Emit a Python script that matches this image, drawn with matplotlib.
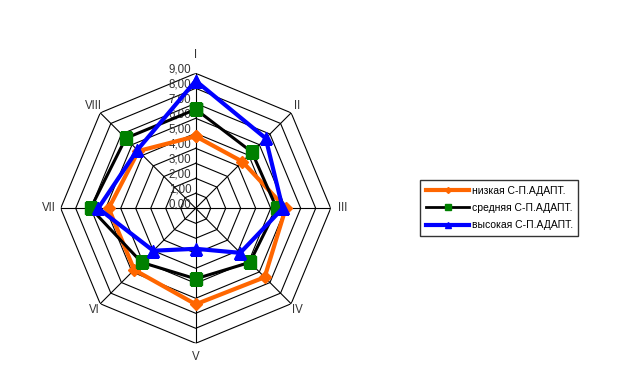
import numpy as np
import matplotlib
matplotlib.use('Agg')
from matplotlib import pyplot as plt
from matplotlib.lines import Line2D

plt.rcParams['font.family'] = ['Liberation Sans', 'DejaVu Sans']

categories = ['I', 'II', 'III', 'IV', 'V', 'VI', 'VII', 'VIII']
low = [4.8, 4.4, 6.0, 6.5, 6.4, 5.8, 5.8, 5.4]
mid = [6.6, 5.3, 5.4, 5.1, 4.7, 5.1, 7.0, 6.6]
high = [8.5, 6.6, 5.8, 4.2, 2.7, 4.0, 6.5, 5.5]
series_names = ['низкая С-П.АДАПТ.', 'средняя С-П.АДАПТ.', 'высокая С-П.АДАПТ.']
r_ticks = [0, 1, 2, 3, 4, 5, 6, 7, 8, 9]
label_r = [10.2, 9.6, 9.8, 9.6, 9.9, 9.6, 9.8, 9.6]


def closed(vals):
    return list(vals) + [vals[0]]


W, H = 637, 365
cx, cy, R = 195.7, 208.3, 135
fig = plt.figure(figsize=(W / 100, H / 100), dpi=100)
ax = fig.add_axes([(cx - R) / W, (H - cy - R) / H, 2 * R / W, 2 * R / H],
                  projection='polar')
ax.set_theta_zero_location('N')
ax.set_theta_direction(-1)
ax.set_rlim(0, 9)
ax.grid(False)
ax.spines['polar'].set_visible(False)
ax.set_xticks([])
ax.set_yticks([])
ax.patch.set_alpha(0)

n = len(categories)
theta = np.arange(n) * 2 * np.pi / n
th_c = closed(list(theta))

# octagon grid
for r in r_ticks[1:]:
    ax.plot(th_c, [r] * (n + 1), color='black', lw=0.8, zorder=1)
for t in theta:
    ax.plot([t, t], [0, 9], color='black', lw=0.8, zorder=1)

# tick labels along axis I
for r in r_ticks:
    ax.annotate('{:.2f}'.format(r).replace('.', ','), xy=(0, r),
                xytext=(-3, 3), textcoords='offset points',
                ha='right', va='center', fontsize=8.3, color='#333333',
                zorder=2)

# category labels
for t, c, lr in zip(theta, categories, label_r):
    ax.text(t, lr, c, ha='center', va='center', fontsize=8.3,
            color='#333333', clip_on=False)

ax.plot(th_c, closed(low), color='#FF6600', lw=3, marker='D', ms=6.5,
        zorder=3)
ax.plot(th_c, closed(mid), color='black', lw=2.2, marker='s', ms=8,
        mfc='#008000', mec='#008000', zorder=4)
ax.plot(th_c, closed(high), color='#0000FF', lw=3, marker='^', ms=8,
        zorder=5)

handles = [
    Line2D([], [], color='#FF6600', lw=3, marker='D', ms=3),
    Line2D([], [], color='black', lw=2, marker='s', ms=4,
           mfc='#008000', mec='#008000'),
    Line2D([], [], color='#0000FF', lw=3, marker='^', ms=4),
]
leg = fig.legend(handles, series_names, loc='upper left',
                 bbox_to_anchor=(420 / W, 1 - 180 / H), fontsize=7.5,
                 frameon=True, fancybox=False, handlelength=4.2,
                 handletextpad=0.2, borderpad=0.55, labelspacing=0.7,
                 borderaxespad=0)
leg.get_frame().set_edgecolor('black')
leg.get_frame().set_linewidth(1)

fig.savefig('out.png', dpi=100)
